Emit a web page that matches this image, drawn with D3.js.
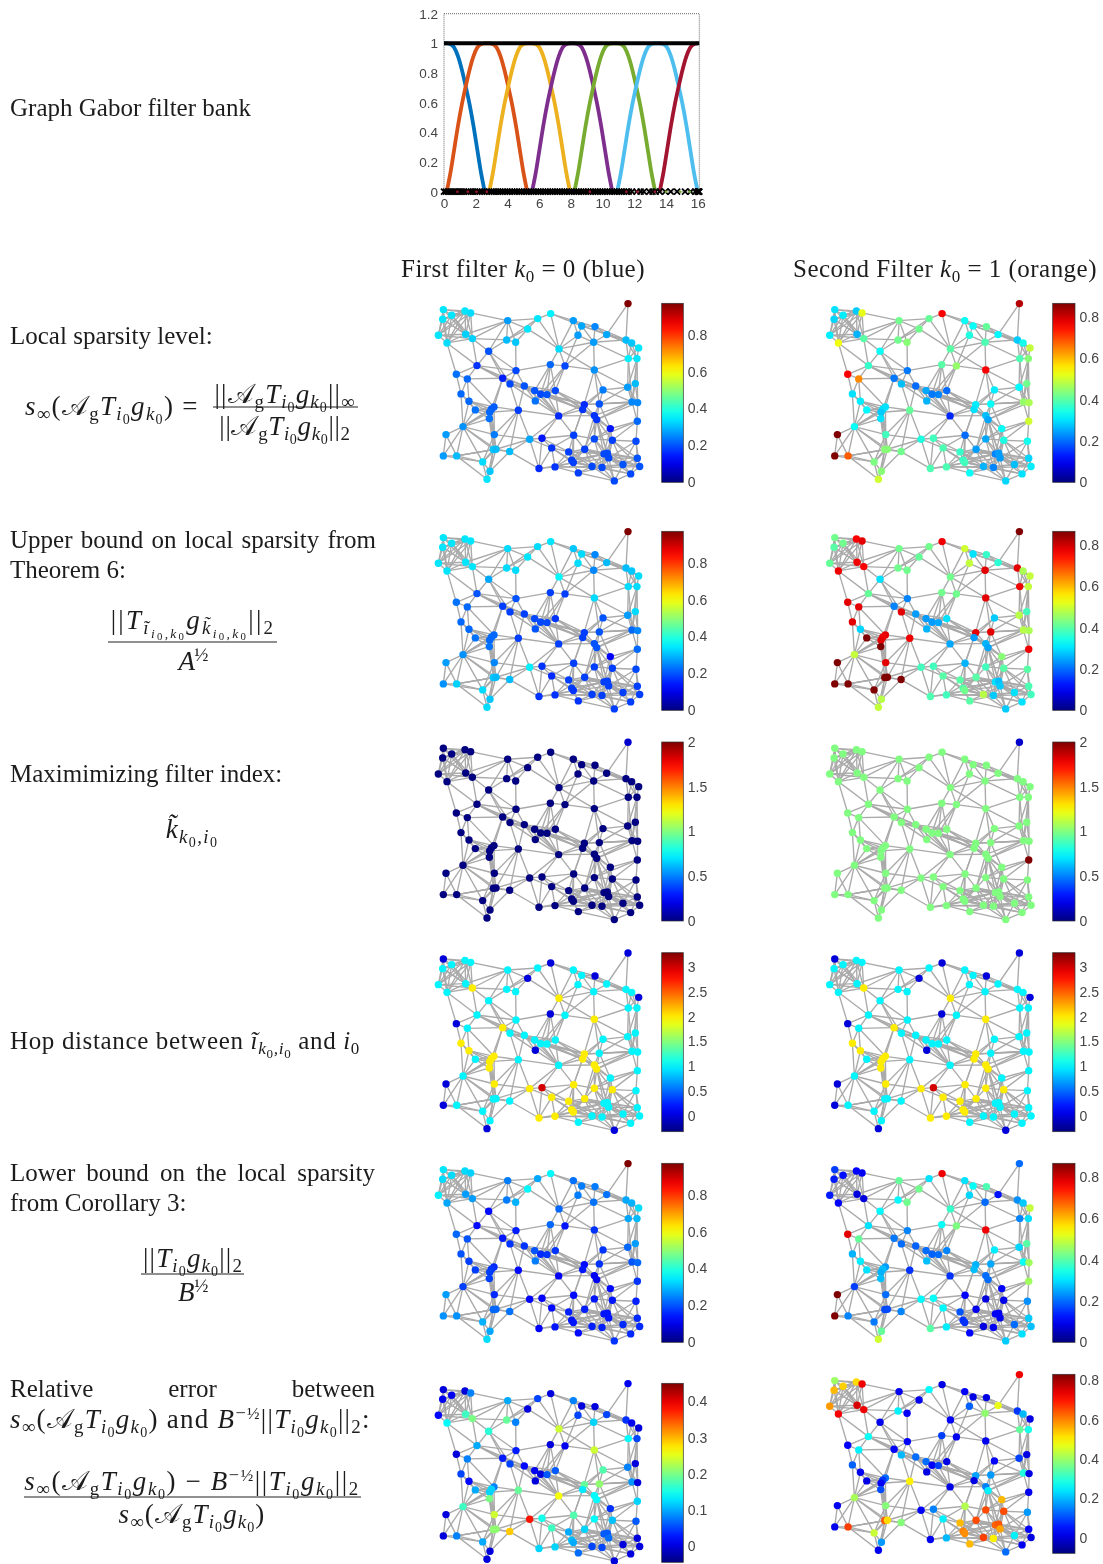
<!DOCTYPE html>
<html><head><meta charset="utf-8">
<script src="https://cdn.jsdelivr.net/npm/d3@7"></script>
<style>html,body{margin:0;padding:0;background:#fff}svg{display:block;filter:blur(.55px)}</style>
</head><body><svg id="c" width="1103" height="1564"></svg>
<script>
// ---------- filter bank ----------
const xTicks=[0,2,4,6,8,10,12,14,16], yTicks=[0,.2,.4,.6,.8,1,1.2];
const riseLevels=[0,.13,.29,.45,.59,.71,.82,.91,.97,.995,1];
const fallLevels=[1,.995,.97,.91,.82,.71,.59,.45,.29,.13,0];
const filterBlueX=[0,.17,.41,.65,.89,1.13,1.37,1.61,1.85,2.09,2.33,2.57];
const filterBlueY=[1,1,.995,.97,.91,.82,.71,.59,.45,.29,.13,0];
const filterOrangeX=[.17,.41,.65,.89,1.13,1.37,1.61,1.85,2.09,2.33,2.57,2.85,3.09,3.33,3.57,3.81,4.05,4.29,4.53,4.77,5.01,5.25];
const filterYellowX=[2.85,3.09,3.33,3.57,3.81,4.05,4.29,4.53,4.77,5.01,5.25,5.55,5.79,6.03,6.27,6.51,6.75,6.99,7.23,7.47,7.71,7.95];
const filterPurpleX=[5.55,5.79,6.03,6.27,6.51,6.75,6.99,7.23,7.47,7.71,7.95,8.22,8.46,8.7,8.94,9.18,9.42,9.66,9.9,10.14,10.38,10.62];
const filterGreenX=[8.22,8.46,8.7,8.94,9.18,9.42,9.66,9.9,10.14,10.38,10.62,10.92,11.16,11.4,11.64,11.88,12.12,12.36,12.6,12.84,13.08,13.32];
const filterSkyX=[10.92,11.16,11.4,11.64,11.88,12.12,12.36,12.6,12.84,13.08,13.32,13.6,13.84,14.08,14.32,14.56,14.8,15.04,15.28,15.52,15.76,16];
const filterRedX=[13.6,13.84,14.08,14.32,14.56,14.8,15.04,15.28,15.52,15.76,16];
const filterColors=["#0072BD","#D95319","#EDB120","#7E2F8E","#77AC30","#4DBEEE","#A2142F"];
const eigenvalues=[0,.12,.25,.4,.52,.63,.75,.9,1,1.12,1.25,1.4,1.55,1.7,1.82,1.95,2.1,2.25,2.4,2.55,2.7,2.85,3,3.15,3.3,3.42,3.55,3.7,3.85,4,4.15,4.3,4.45,4.6,4.75,4.9,5.05,5.2,5.35,5.5,5.65,5.8,5.95,6.1,6.25,6.4,6.55,6.7,6.85,7,7.15,7.3,7.45,7.6,7.75,7.9,8.05,8.2,8.35,8.5,8.65,8.8,8.95,9.1,9.25,9.4,9.55,9.7,9.85,10,10.15,10.3,10.45,10.6,10.75,10.9,11.05,11.2,11.35,11.5,11.65,11.85,12.15,12.4,12.6,12.95,13.15,13.35,13.6,13.95,14.3,14.7,15.2,15.55,15.85,16,16.03,16.06,16.08,16.1];
const eigenDotsX=[.85,1.5,2.05,2.7,9.2,11.5,12.2,13.3,14,14.9,15.5];
const eigenDotsC=["#A2142F","#A2142F","#A2142F","#A2142F","#A2142F","#A2142F","#A2142F","#A2142F","#77AC30","#77AC30","#77AC30"];

// ---------- graph (node positions in picture units) ----------
const nodeX=[609,55,80,53,120,137,40,122,66,142,248,338,377,308,245,272,445,470,510,459,545,506,603,620,641,402,191,610,636,156,273,376,420,508,94,127,233,255,298,329,347,366,391,331,534,608,631,108,132,151,207,199,194,193,280,401,478,473,523,621,638,508,515,637,114,556,63,208,314,351,446,508,562,633,380,205,213,254,431,479,55,95,173,537,547,551,637,440,445,342,390,501,531,594,644,195,460,617,186,568];
const nodeY=[40,58,75,87,62,68,135,132,158,145,91,85,70,116,149,156,91,107,109,135,133,156,149,158,173,176,183,205,205,226,241,223,227,239,252,266,264,281,287,301,312,313,301,332,299,291,280,311,333,359,350,357,366,385,360,377,343,358,341,335,337,376,388,393,409,415,433,433,447,444,435,446,450,453,473,478,477,484,485,477,497,497,515,491,489,503,504,510,517,535,530,529,532,523,529,543,548,551,567,572];
const edges=[[0,20],[0,22],[1,2],[1,3],[1,4],[1,5],[1,6],[1,7],[2,3],[2,4],[2,5],[2,6],[2,7],[2,8],[3,6],[3,7],[3,8],[4,5],[4,7],[4,9],[5,7],[5,9],[5,10],[6,7],[6,8],[7,8],[7,9],[8,9],[8,29],[8,34],[9,26],[9,14],[9,29],[9,10],[7,10],[10,11],[10,13],[10,14],[10,26],[11,12],[11,13],[11,25],[12,16],[12,17],[12,25],[13,14],[13,15],[13,25],[14,15],[14,26],[15,30],[16,17],[16,18],[16,19],[16,25],[17,18],[17,19],[17,20],[17,21],[18,20],[18,21],[19,21],[19,25],[19,32],[20,21],[20,22],[20,23],[21,22],[21,25],[21,33],[21,27],[22,23],[22,24],[22,27],[23,24],[23,27],[23,28],[24,27],[24,28],[25,31],[25,32],[26,29],[26,30],[26,36],[27,28],[27,45],[27,33],[28,46],[28,60],[29,30],[29,34],[29,35],[29,36],[29,37],[30,31],[30,36],[30,38],[30,37],[31,32],[31,39],[31,40],[31,41],[32,33],[32,41],[32,42],[33,44],[33,45],[33,57],[33,58],[34,35],[34,47],[35,36],[35,47],[35,48],[35,50],[36,37],[36,38],[36,50],[36,51],[37,38],[37,39],[37,54],[38,39],[38,40],[38,55],[39,40],[39,41],[39,42],[39,43],[40,41],[40,42],[40,55],[41,42],[41,56],[42,56],[42,57],[42,61],[43,55],[44,45],[44,58],[44,59],[45,46],[45,59],[45,60],[46,59],[46,60],[47,48],[47,49],[47,64],[48,49],[48,50],[48,51],[48,64],[49,50],[49,51],[49,52],[49,64],[50,51],[50,52],[50,54],[50,64],[51,52],[51,53],[51,64],[52,53],[52,54],[52,64],[53,64],[53,67],[54,55],[54,67],[54,68],[55,56],[55,57],[55,61],[55,69],[55,70],[55,68],[56,57],[56,58],[56,61],[56,70],[57,61],[57,62],[57,70],[58,59],[58,60],[58,61],[58,62],[59,60],[59,63],[60,63],[61,62],[61,65],[61,71],[62,65],[62,71],[62,72],[63,65],[63,72],[63,73],[64,66],[64,67],[64,75],[64,80],[64,81],[65,71],[65,72],[66,80],[66,81],[67,68],[67,75],[67,76],[68,69],[68,77],[68,74],[68,89],[69,74],[69,78],[69,70],[69,89],[70,71],[70,78],[70,79],[71,72],[71,79],[71,83],[71,84],[72,73],[72,83],[72,84],[72,85],[72,93],[73,85],[73,86],[73,93],[74,78],[74,87],[74,88],[74,90],[74,89],[75,76],[75,77],[75,81],[75,82],[75,95],[75,98],[76,77],[76,82],[76,95],[77,89],[77,95],[78,79],[78,83],[78,87],[78,88],[78,91],[79,83],[79,84],[79,87],[79,88],[79,91],[79,92],[80,81],[80,82],[81,75],[81,82],[81,98],[82,95],[82,98],[83,84],[83,85],[83,91],[83,92],[83,93],[84,85],[84,92],[84,93],[84,86],[85,86],[85,91],[85,92],[85,93],[85,94],[85,97],[86,93],[86,94],[86,97],[87,88],[87,91],[87,96],[88,90],[88,91],[88,92],[88,96],[89,90],[90,96],[91,92],[91,96],[91,99],[92,93],[92,99],[93,94],[93,97],[93,99],[94,97],[95,98],[96,99],[97,99],
[78,92],[78,84],[87,83],[87,84],[88,83],[88,85],[90,91],[90,92],[90,79],[90,78],[91,93],[89,88],[79,85],[79,93],[83,86],[92,94],[92,97],[91,97],[84,94],[96,92],[99,85],[99,83],[71,92],[65,83],[65,85],[70,87],[70,88],[70,74],[61,79],[62,79],[62,84],[62,85],[62,83],[63,71],[58,65],[44,56],[44,57],[59,61],[59,62],[59,56],[60,62],[45,58],[37,41],[37,40],[38,41],[38,42],[39,55],[39,56],[39,57],[40,56],[40,57],[41,57],[41,55],[42,55],[31,42],[32,40],[37,43],[38,43],[38,54],[26,37],[29,38],[41,61],[1,8],[3,9],[2,9],[4,6],[4,8],[5,6],[5,8],[6,9],[3,4],[3,5],[10,15],[11,14],[25,33],[21,32],[18,22],[17,22],[20,24],[22,28],[28,45],[27,59],[28,59],[94,73],[64,82],[64,76],[53,75],[53,76],[67,82],[81,76],[49,53],[48,52],[50,53],[50,67],[51,67],[52,67],[54,77],[54,76],[68,76],[72,86],[72,94]];

// ---------- node values, one list per panel ----------
const sparsityBlue=[.97,.34,.34,.34,.34,.33,.34,.32,.33,.32,.27,.34,.35,.34,.30,.31,.27,.28,.25,.27,.28,.27,.30,.31,.34,.33,.20,.35,.34,.17,.19,.22,.19,.26,.23,.22,.15,.19,.20,.20,.19,.20,.19,.23,.24,.27,.30,.22,.22,.23,.21,.21,.22,.23,.18,.16,.16,.17,.20,.25,.25,.17,.17,.22,.26,.14,.27,.24,.28,.14,.18,.19,.18,.19,.17,.31,.30,.30,.18,.18,.27,.30,.33,.19,.19,.19,.20,.18,.18,.16,.17,.19,.19,.20,.20,.31,.18,.19,.34,.19];
const sparsityOrange=[.82,.30,.31,.29,.28,.52,.31,.26,.53,.40,.42,.41,.76,.42,.42,.44,.33,.33,.41,.35,.32,.39,.28,.34,.49,.40,.33,.39,.44,.37,.21,.40,.45,.76,.76,.64,.21,.27,.20,.25,.21,.22,.20,.26,.31,.32,.42,.30,.31,.32,.30,.30,.28,.30,.41,.14,.31,.30,.33,.45,.47,.27,.25,.50,.33,.33,.865,.38,.35,.38,.20,.25,.35,.34,.39,.44,.44,.42,.37,.24,.865,.68,.43,.22,.24,.24,.29,.37,.38,.39,.39,.26,.22,.27,.31,.44,.33,.30,.50,.29];
const upperBlue=[.97,.34,.34,.34,.34,.34,.34,.34,.34,.34,.33,.33,.34,.34,.33,.33,.31,.33,.25,.33,.30,.25,.30,.31,.33,.36,.28,.33,.33,.20,.20,.18,.18,.33,.23,.22,.18,.18,.18,.19,.19,.19,.17,.20,.20,.27,.33,.22,.22,.23,.22,.22,.22,.23,.18,.18,.18,.18,.20,.22,.25,.20,.20,.22,.26,.12,.27,.25,.35,.17,.18,.18,.18,.19,.16,.31,.30,.30,.18,.18,.26,.32,.33,.18,.18,.18,.18,.18,.17,.17,.17,.18,.18,.18,.18,.31,.17,.18,.33,.18];
const upperOrange=[.865,.42,.42,.40,.76,.78,.41,.77,.77,.76,.42,.42,.77,.41,.42,.42,.50,.30,.37,.49,.36,.78,.78,.47,.49,.42,.30,.77,.49,.41,.22,.42,.42,.78,.78,.78,.22,.78,.24,.24,.24,.25,.30,.26,.28,.48,.38,.78,.29,.865,.78,.77,.78,.865,.77,.25,.78,.24,.78,.48,.47,.26,.25,.77,.49,.44,.865,.78,.38,.38,.26,.38,.40,.40,.40,.865,.865,.865,.40,.40,.865,.865,.865,.30,.27,.28,.39,.40,.42,.39,.38,.48,.28,.30,.38,.48,.40,.30,.49,.28];
const filterIndexBlue=[.15,0,0,0,0,0,0,0,0,0,0,0,0,0,0,0,0,0,0,0,0,0,0,0,0,0,0,0,0,0,0,0,0,0,0,0,0,0,0,0,0,0,0,0,0,0,0,0,0,0,0,0,0,0,0,0,0,0,0,0,0,0,0,0,0,0,0,0,0,0,0,0,0,0,0,0,0,0,0,0,0,0,0,0,0,0,0,0,0,0,0,0,0,0,0,0,0,0,0,0];
const filterIndexOrange=[.15,1,1,1,1,1,1,1,1,1,1,1,1,1,1,1,1,1,1,1,1,1,1,1,1,1,1,1,1,1,1,1,1,1,1,1,1,1,1,1,1,1,1,1,1,1,1,1,1,1,1,1,1,1,1,1,1,1,1,1,1,1,1,2,1,1,1,1,1,1,1,1,1,1,1,1,1,1,1,1,1,1,1,1,1,1,1,1,1,1,1,1,1,1,1,1,1,1,1,1];
const hopDistance=[0,0,1,1,1,1,1,1,1,2,1,1,0,0,1,1,1,1,0,1,1,1,1,1,0,2,1,1,1,1,1,0,1,2,0,1,2,1,1,1,1,1,1,0,1,1,1,2,2,1,2,2,2,2,1,1,2,2,1,1,1,2,2,1,1,1,0,2,2,3,2,2,2,1,2,1,1,1,2,2,0,1,1,1,1,1,1,2,2,2,2,1,1,1,1,1,1,1,0,0];
const lowerBlue=[.97,.34,.33,.33,.33,.32,.35,.27,.28,.27,.24,.28,.36,.36,.24,.29,.23,.24,.24,.24,.23,.23,.28,.29,.33,.22,.13,.28,.30,.13,.15,.22,.14,.17,.22,.20,.14,.17,.17,.20,.16,.17,.17,.24,.17,.22,.27,.20,.18,.18,.16,.17,.18,.18,.13,.11,.13,.14,.17,.20,.22,.11,.11,.17,.18,.13,.27,.16,.12,.12,.13,.14,.14,.15,.13,.22,.22,.23,.15,.15,.26,.26,.29,.14,.14,.14,.16,.14,.14,.12,.14,.15,.15,.16,.16,.28,.13,.16,.33,.17];
const lowerOrange=[.20,.16,.12,.13,.11,.10,.13,.08,.11,.08,.41,.30,.77,.42,.32,.42,.30,.33,.39,.29,.12,.20,.23,.28,.49,.37,.32,.22,.30,.30,.22,.33,.43,.77,.78,.41,.21,.20,.19,.20,.19,.20,.22,.27,.31,.29,.40,.26,.31,.30,.24,.27,.26,.27,.15,.15,.26,.27,.25,.33,.46,.20,.20,.46,.16,.11,.865,.20,.32,.33,.11,.08,.09,.23,.32,.17,.17,.22,.18,.09,.865,.22,.21,.10,.10,.10,.28,.15,.15,.40,.31,.08,.10,.20,.27,.41,.11,.30,.50,.28];
const errorBlue=[.01,0,.01,.01,0,.08,.02,.17,.14,.20,.10,.05,0,0,.19,.08,.08,0,0,.05,.05,.12,.04,.01,0,.24,.16,.14,.05,.10,.03,0,.01,.24,0,.08,.03,.05,.02,.01,0,.06,.06,0,.18,.08,0,.05,.02,.10,.08,.12,.12,.20,.19,.26,.19,.13,.21,.09,0,.14,.14,.12,.17,.04,0,.24,.38,.15,.18,.14,.11,.06,.17,.21,.21,.29,.10,.12,0,.08,.10,.06,.06,.07,0,.11,.10,.12,.12,.05,.05,0,0,0,.07,0,0,0];
const errorOrange=[.73,.40,.53,.55,.52,.73,.58,.75,.72,.73,.02,.26,.01,.02,.25,.03,.03,.01,.01,.12,.47,.39,.08,.20,.01,.03,.02,.35,.28,.27,.03,.09,.02,.02,.03,.25,.03,.20,.13,.13,.03,.09,.01,.01,.03,.09,.01,.12,.02,.01,.13,.08,.03,.10,.50,.01,.18,.01,.17,.29,.01,.15,.25,.02,.41,.55,.02,.38,.03,.15,.42,.65,.65,.17,.25,.64,.52,.38,.55,.65,.02,.66,.44,.63,.64,.57,.03,.60,.59,.02,.20,.66,.50,.25,.01,.17,.55,.02,.02,.13];

// ---------- panel settings ----------
const tickSparsity=[0,.2,.4,.6,.8], tickIndex=[0,.5,1,1.5,2], tickHop=[0,.5,1,1.5,2,2.5,3], tickError=[0,.1,.2,.3,.4];
const panels=[
 {c:0,top:303.3,v:sparsityBlue,d:[0,.97],t:tickSparsity},{c:1,top:303.3,v:sparsityOrange,d:[0,.865],t:tickSparsity},
 {c:0,top:531.3,v:upperBlue,d:[0,.97],t:tickSparsity},{c:1,top:531.3,v:upperOrange,d:[0,.865],t:tickSparsity},
 {c:0,top:742,v:filterIndexBlue,d:[0,2],t:tickIndex},{c:1,top:742,v:filterIndexOrange,d:[0,2],t:tickIndex},
 {c:0,top:952.7,v:hopDistance,d:[-.32,3.29],t:tickHop},{c:1,top:952.7,v:hopDistance,d:[-.32,3.29],t:tickHop},
 {c:0,top:1163.3,v:lowerBlue,d:[0,.97],t:tickSparsity},{c:1,top:1163.3,v:lowerOrange,d:[0,.865],t:tickSparsity},
 {c:0,top:1383.3,v:errorBlue,d:[-.045,.45],t:tickError},{c:1,top:1374.3,v:errorOrange,d:[-.08,.83],t:tickSparsity}
];
const colLeft=[425,816.4], barLeft=[661.7,1052.7], barW=[21.6,22.3];

const svg=d3.select("#c");
const jet=d3.scaleLinear().domain([0,.125,.375,.625,.875,1]).range(["#000080","#0000ff","#00ffff","#ffff00","#ff0000","#800000"]).clamp(true);
const defs=svg.append("defs");
const grad=defs.append("linearGradient").attr("id","jet").attr("x1",0).attr("x2",0).attr("y1",1).attr("y2",0);
d3.range(0,1.001,.05).forEach(t=>grad.append("stop").attr("offset",t).attr("stop-color",jet(t)));

// ---------- top chart ----------
(function(){
 const x=d3.scaleLinear().domain([0,16.1]).range([444,699.3]);
 const y=d3.scaleLinear().domain([0,1.2]).range([191.7,13.7]);
 const g=svg.append("g");
 g.append("rect").attr("x",x(0)).attr("y",y(1.2)).attr("width",x(16.1)-x(0)).attr("height",y(0)-y(1.2)).attr("fill","none").attr("stroke","#666").attr("stroke-width",1).attr("stroke-dasharray","1 1");
 const line=d3.line().x(d=>x(d[0])).y(d=>y(d[1])).curve(d3.curveMonotoneX);
 const both=riseLevels.concat(fallLevels);
 const curves=[d3.zip(filterBlueX,filterBlueY),d3.zip(filterOrangeX,both),d3.zip(filterYellowX,both),d3.zip(filterPurpleX,both),d3.zip(filterGreenX,both),d3.zip(filterSkyX,both),d3.zip(filterRedX,riseLevels)];
 g.selectAll(".f").data(curves).join("path").attr("d",line).attr("fill","none").attr("stroke",(d,i)=>filterColors[i]).attr("stroke-width",3.8);
 g.append("path").attr("d",line([[0,1],[16.1,1]])).attr("stroke","#000").attr("stroke-width",4).attr("fill","none");
 g.selectAll(".e").data(eigenvalues).join("path").attr("d",d=>`M${x(d)-3},${y(0)-3}l6,6m0,-6l-6,6`).attr("stroke","#000").attr("stroke-width",1.8);
 g.selectAll(".d").data(eigenDotsX).join("circle").attr("cx",d=>x(d)).attr("cy",y(0)).attr("r",1.3).attr("fill",(d,i)=>eigenDotsC[i]);
 const ax=svg.append("g").attr("transform",`translate(0,${y(0)+4.5})`).call(d3.axisBottom(x).tickValues(xTicks).tickSize(0).tickPadding(2).tickFormat(d3.format("~g")));
 const ay=svg.append("g").attr("transform",`translate(${x(0)-4},0)`).call(d3.axisLeft(y).tickValues(yTicks).tickSize(0).tickPadding(2).tickFormat(d3.format("~g")));
 [ax,ay].forEach(a=>{a.select(".domain").remove();a.selectAll("text").attr("font-family","Liberation Sans").attr("font-size",13.5).attr("fill","#444");});
})();

// ---------- graph panels ----------
panels.forEach(p=>{
 const cl=colLeft[p.c];
 const x=d3.scaleLinear().domain([0,870]).range([cl,cl+290]);
 const y=d3.scaleLinear().domain([40,572]).range([p.top+.3,p.top+177.6]);
 const g=svg.append("g");
 g.selectAll("line").data(edges).join("line")
  .attr("x1",d=>x(nodeX[d[0]])).attr("y1",d=>y(nodeY[d[0]])).attr("x2",d=>x(nodeX[d[1]])).attr("y2",d=>y(nodeY[d[1]]))
  .attr("stroke","#aaaaaa").attr("stroke-width",1.35);
 const col=d3.scaleLinear().domain(p.d).range([0,1]);
 g.selectAll("circle").data(p.v).join("circle").attr("cx",(d,i)=>x(nodeX[i])).attr("cy",(d,i)=>y(nodeY[i])).attr("r",3.7).attr("fill",d=>jet(col(d)));
 const bh=179;
 g.append("rect").attr("x",barLeft[p.c]).attr("y",p.top).attr("width",barW[p.c]).attr("height",bh).attr("fill","url(#jet)").attr("stroke","#333").attr("stroke-width",.7);
 const cb=d3.scaleLinear().domain(p.d).range([p.top+bh,p.top]);
 const a=g.append("g").attr("transform",`translate(${barLeft[p.c]+barW[p.c]},0)`).call(d3.axisRight(cb).tickValues(p.t).tickSize(0).tickPadding(4.5).tickFormat(d3.format("~g")));
 a.select(".domain").remove();
 a.selectAll("text").attr("font-family","Liberation Sans").attr("font-size",14).attr("fill","#444");
});

// ---------- text ----------
const SERIF="Liberation Serif";
function words(s,x,y,size){return svg.append("text").attr("x",x).attr("y",y).attr("font-family",SERIF).attr("font-size",size||25).attr("fill","#1c1c1c").text(s);}
function justified(s,x0,x1,y){const t=words(s,x0,y);const w=t.node().getComputedTextLength();const n=s.split(" ").length-1;t.attr("word-spacing",(x1-x0-w)/n);return t;}
function math(x,y,segs,anchor,size,target){
 size=size||27;
 const t=svg.append("text").attr("x",x).attr("y",y).attr("font-family",SERIF).attr("font-size",size).attr("fill","#1c1c1c").attr("text-anchor",anchor||"start").attr("xml:space","preserve");
 let prev=0;
 segs.forEach(s=>{const sh=s.d||0;t.append("tspan").attr("dy",sh-prev).attr("font-size",size*(s.s||1)).attr("font-style",s.i?"italic":"normal").text(s.t);prev=sh;});
 if(target){const w=t.node().getComputedTextLength();const n=t.text().length;t.attr("letter-spacing",(target-w)/n);}
 return t;
}
const I=t=>({t,i:1}), R=t=>({t});
const sb=(t,i)=>({t,i,s:.7,d:5}), ssb=t=>({t,s:.52,d:9});
const two={t:"2",s:.7,d:5};
const Ag=[{t:"𝒜",i:0},sb("g",0)];
const Tg=[I("T"),sb("i",1),ssb("0"),I("g"),sb("k",1),ssb("0")];
const sFull=[I("s"),sb("∞",0),R("("),...Ag,...Tg,R(")")];
const half=[{t:"−",s:.68,d:-9},{t:"½",s:.62,d:-9}];
const ki=[sb("k",1),ssb("0"),{t:",i",i:1,s:.7,d:5},ssb("0")];
function frac(y,x0,x1){svg.append("line").attr("x1",x0).attr("x2",x1).attr("y1",y).attr("y2",y).attr("stroke","#222").attr("stroke-width",1.1);}

words("Graph Gabor filter bank",10,116);
math(401,277,[R("First filter "),I("k"),{t:"0",s:.68,d:5},R(" = 0 (blue)")],"start",25,244);
math(793,277,[R("Second Filter "),I("k"),{t:"0",s:.68,d:5},R(" = 1 (orange)")],"start",25,304);

words("Local sparsity level:",10,344);
math(25,415,[...sFull,R(" =")],"start",27,175);
math(285,403,[R("||"),...Ag,...Tg,R("||"),sb("∞",0)],"middle",27,142); frac(407,213,358);
math(285,435,[R("||"),...Ag,...Tg,R("||"),two],"middle",27,132);

justified("Upper bound on local sparsity from",10,376,548);
words("Theorem 6:",10,578);
math(193,629,[R("||"),I("T"),sb("ĩ",1),{t:"i",i:1,s:.5,d:9},{t:"0",s:.4,d:11},{t:",k",i:1,s:.5,d:9},{t:"0",s:.4,d:11},I("g"),sb("k̃",1),{t:"i",i:1,s:.5,d:9},{t:"0",s:.4,d:11},{t:",k",i:1,s:.5,d:9},{t:"0",s:.4,d:11},R("||"),two],"middle",27,167); frac(642,108,277);
math(193,670,[I("A"),{t:"½",s:.7,d:-9}],"middle",27,29);

words("Maximimizing filter index:",10,782);
math(192,838,[I("k̃"),...ki],"middle",27,54);

math(10,1049,[R("Hop distance between "),I("ĩ"),...ki,R(" and "),I("i"),{t:"0",s:.68,d:5}],"start",25,350);

justified("Lower bound on the local sparsity",10,375,1181);
words("from Corollary 3:",10,1211);
math(193,1267,[R("||"),...Tg,R("||"),two],"middle",27,100); frac(1274,141,244);
math(193,1301,[I("B"),{t:"½",s:.7,d:-9}],"middle",27,30);

justified("Relative error between",10,375,1397);
math(10,1428,[...sFull,R(" and "),I("B"),...half,R("||"),...Tg,R("||"),two,R(":")],"start",27,362);
math(192,1490,[...sFull,R(" − "),I("B"),...half,R("||"),...Tg,R("||"),two],"middle",27,337); frac(1497,24,361);
math(192,1523,[...sFull],"middle",27,148);
</script></body></html>
